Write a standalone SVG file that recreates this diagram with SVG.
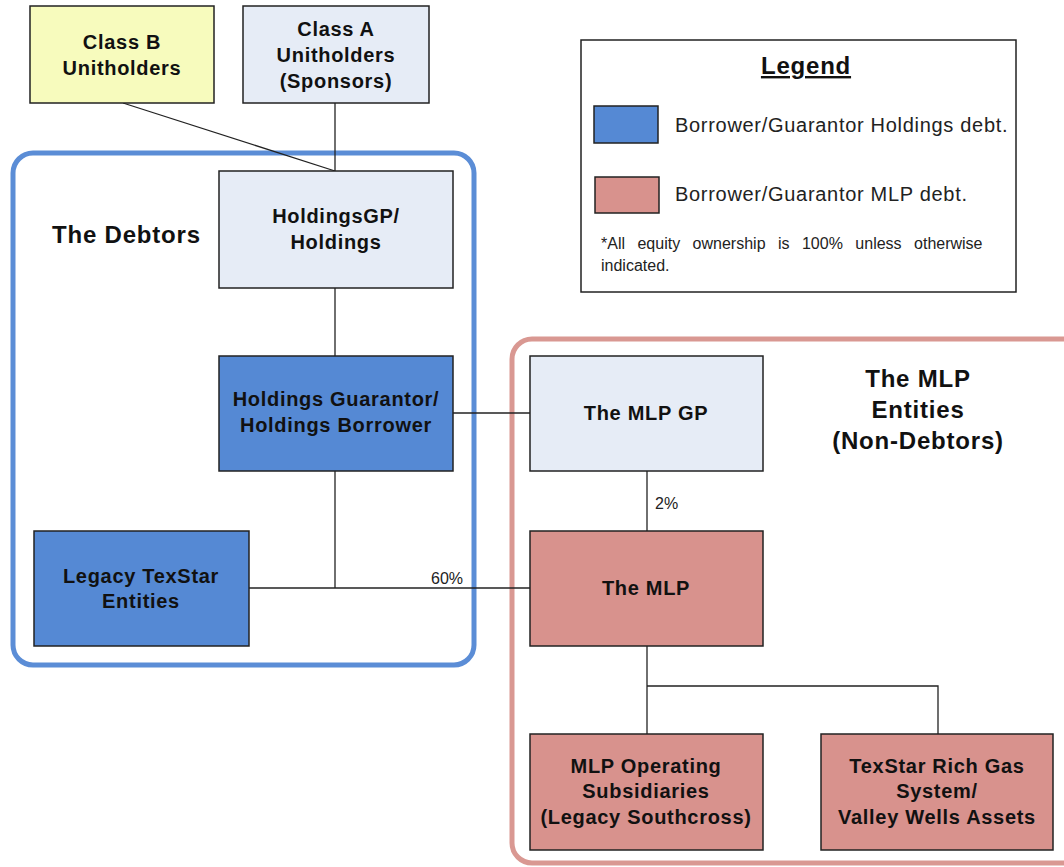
<svg xmlns="http://www.w3.org/2000/svg" width="1064" height="867" viewBox="0 0 1064 867">
<style>
.box{stroke:#222;stroke-width:1.5}
.light{fill:#e6ecf6}
.yellow{fill:#f7fbbd}
.blue{fill:#5589d4}
.pink{fill:#d8928d}
.t{font-family:"Liberation Sans",Arial,sans-serif;font-weight:bold;font-size:20px;letter-spacing:0.7px;fill:#111;text-anchor:middle}
.big{font-family:"Liberation Sans",Arial,sans-serif;font-weight:bold;font-size:24px;letter-spacing:0.8px;fill:#111}
.n{font-family:"Liberation Sans",Arial,sans-serif;font-size:20px;letter-spacing:0.7px;fill:#222}
.s{font-family:"Liberation Sans",Arial,sans-serif;font-size:16px;fill:#222}
.ln{stroke:#222;stroke-width:1.3;fill:none}
</style>
<rect width="1064" height="867" fill="#fff"/>
<g id="groups">
<rect id="debtors-group" x="13" y="153" width="461" height="512" rx="20" fill="none" stroke="#5b8dd6" stroke-width="5"/>
<rect id="mlp-group" x="512" y="339" width="570" height="524" rx="20" fill="none" stroke="#d99892" stroke-width="5"/>
<text class="big" x="52" y="243">The Debtors</text>
<text class="big" x="918" y="387" text-anchor="middle">The MLP</text>
<text class="big" x="918" y="418" text-anchor="middle">Entities</text>
<text class="big" x="918" y="449" text-anchor="middle">(Non-Debtors)</text>
</g>
<g id="connectors">
<line class="ln" x1="123" y1="103" x2="335" y2="171"/>
<line class="ln" x1="335" y1="103" x2="335" y2="171"/>
<line class="ln" x1="335" y1="288" x2="335" y2="356"/>
<line class="ln" x1="453" y1="413" x2="530" y2="413"/>
<polyline class="ln" points="335,471 335,588"/>
<line class="ln" x1="249" y1="588" x2="530" y2="588"/>
<line class="ln" x1="647" y1="471" x2="647" y2="531"/>
<line class="ln" x1="647" y1="646" x2="647" y2="734"/>
<polyline class="ln" points="647,686 938,686 938,734"/>
<text class="s" x="431" y="584">60%</text>
<text class="s" x="655" y="509">2%</text>
</g>
<g id="classB">
<rect class="box yellow" x="30" y="6" width="184" height="97"/>
<text class="t" x="122" y="49">Class B</text>
<text class="t" x="122" y="75">Unitholders</text>
</g>
<g id="classA">
<rect class="box light" x="243" y="6" width="186" height="97"/>
<text class="t" x="336" y="36">Class A</text>
<text class="t" x="336" y="62">Unitholders</text>
<text class="t" x="336" y="88">(Sponsors)</text>
</g>
<g id="holdingsGP">
<rect class="box light" x="219" y="171" width="234" height="117"/>
<text class="t" x="336" y="223">HoldingsGP/</text>
<text class="t" x="336" y="249">Holdings</text>
</g>
<g id="holdingsGuarantor">
<rect class="box blue" x="219" y="356" width="234" height="115"/>
<text class="t" x="336" y="406">Holdings Guarantor/</text>
<text class="t" x="336" y="432">Holdings Borrower</text>
</g>
<g id="legacyTexStar">
<rect class="box blue" x="34" y="531" width="215" height="115"/>
<text class="t" x="141" y="583">Legacy TexStar</text>
<text class="t" x="141" y="608">Entities</text>
</g>
<g id="mlpGP">
<rect class="box light" x="530" y="356" width="233" height="115"/>
<text class="t" x="646" y="420">The MLP GP</text>
</g>
<g id="mlp">
<rect class="box pink" x="530" y="531" width="233" height="115"/>
<text class="t" x="646" y="595">The MLP</text>
</g>
<g id="mlpOps">
<rect class="box pink" x="530" y="734" width="233" height="116"/>
<text class="t" x="646" y="773">MLP Operating</text>
<text class="t" x="646" y="798">Subsidiaries</text>
<text class="t" x="646" y="824">(Legacy Southcross)</text>
</g>
<g id="texStarRich">
<rect class="box pink" x="821" y="734" width="232" height="116"/>
<text class="t" x="937" y="773">TexStar Rich Gas</text>
<text class="t" x="937" y="798">System/</text>
<text class="t" x="937" y="824">Valley Wells Assets</text>
</g>
<g id="legend">
<rect x="581" y="40" width="435" height="252" fill="#fff" stroke="#222" stroke-width="1.5"/>
<text class="big" x="806" y="74" text-anchor="middle" text-decoration="underline">Legend</text>
<rect class="box blue" x="594" y="106" width="64" height="37"/>
<text class="n" x="675" y="132">Borrower/Guarantor Holdings debt.</text>
<rect class="box pink" x="595" y="177" width="64" height="36"/>
<text class="n" x="675" y="201">Borrower/Guarantor MLP debt.</text>
<text class="s" x="601" y="249" word-spacing="8">*All equity ownership is 100% unless otherwise</text>
<text class="s" x="601" y="271">indicated.</text>
</g>
</svg>
